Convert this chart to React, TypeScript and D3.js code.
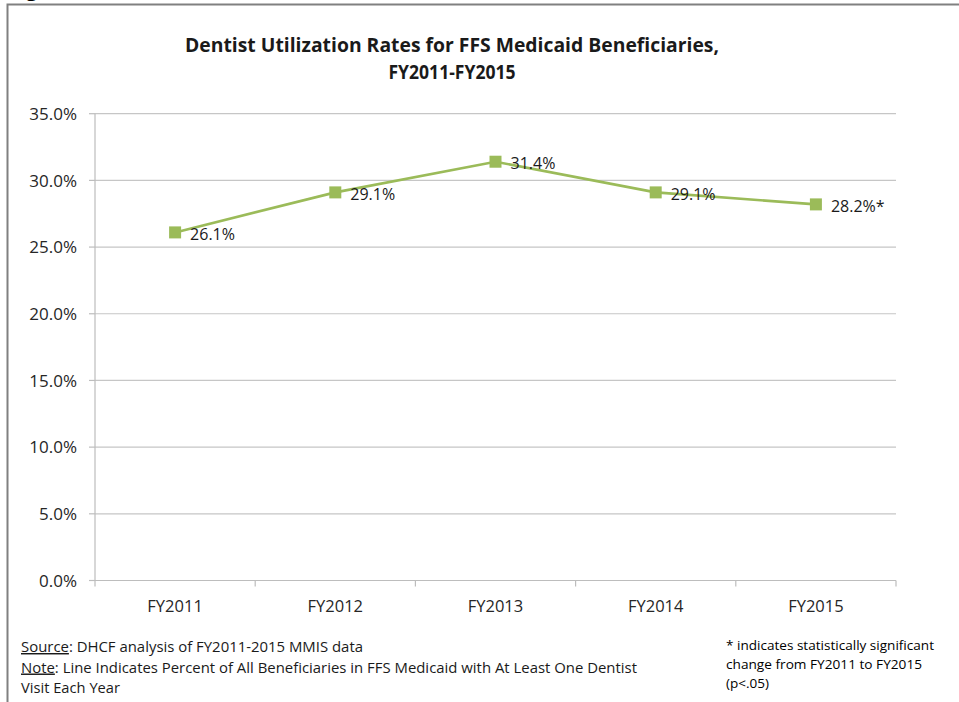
import React from "react";
import * as d3 from "d3";

const categories = ["FY2011", "FY2012", "FY2013", "FY2014", "FY2015"];
const values = [26.1, 29.1, 31.4, 29.1, 28.2];
const pointLabels = ["26.1%", "29.1%", "31.4%", "29.1%", "28.2%*"];
const yTicks = [0, 5, 10, 15, 20, 25, 30, 35];
const titleLines = ["Dentist Utilization Rates for FFS Medicaid Beneficiaries,", "FY2011-FY2015"];
const footLeft = [
  { u: "Source", rest: ": DHCF analysis of FY2011-2015 MMIS data", len: 342 },
  { u: "Note", rest: ": Line Indicates Percent of All Beneficiaries in FFS Medicaid with At Least One Dentist", len: 616 },
  { u: "", rest: "Visit Each Year", len: 99 },
];
const footRight = [
  { t: "* indicates statistically significant", len: 208 },
  { t: "change from FY2011 to FY2015", len: 196 },
  { t: "(p<.05)", len: 43 },
];

const W = 959;
const H = 702;
const FONT = "'Open Sans', 'Noto Sans', sans-serif";
const GREEN = "#9bbb59";

export default function App() {
  const plotL = 95, plotR = 896, plotT = 113.7, plotB = 580.5;
  const x = d3.scaleBand<string>().domain(categories).range([plotL, plotR]);
  const y = d3.scaleLinear().domain([0, 35]).range([plotB, plotT]);
  const line = d3
    .line<number>()
    .x((_, i) => (x(categories[i]) as number) + x.bandwidth() / 2)
    .y((d) => y(d));
  const fmt = (v: number) => v.toFixed(1) + "%";
  const boundaries = categories.map((c) => x(c) as number).concat([plotR]);

  return (
    <svg
      width={W}
      height={H}
      style={{ position: "absolute", left: 0, top: 0, background: "#fff" }}
      fontFamily={FONT}
    >
      <rect x={0} y={0} width={W} height={H} fill="#fff" />
      {/* cut-off figure caption at top */}
      <text x={9} y={-4} fontSize={20} fontWeight="bold" fill="#000">Figure</text>
      {/* frame */}
      <path d={`M7.5,${H} V4.5 H${W}`} fill="none" stroke="#808080" strokeWidth={2} />

      {/* title */}
      {titleLines.map((t, i) => (
        <text
          key={i}
          x={452}
          y={52 + i * 27}
          textAnchor="middle"
          fontSize={19}
          fontWeight="bold"
          fill="#1a1a1a"
          textLength={i === 0 ? 534 : 127}
          lengthAdjust="spacingAndGlyphs"
        >
          {t}
        </text>
      ))}

      {/* gridlines */}
      {yTicks.map((t) => (
        <g key={t}>
          {t > 0 && (
            <line x1={plotL} x2={plotR} y1={y(t)} y2={y(t)} stroke="#c6c6c6" strokeWidth={1.2} />
          )}
          <line x1={plotL - 6} x2={plotL} y1={y(t)} y2={y(t)} stroke="#bdbdbd" strokeWidth={1.2} />
          <text
            x={77}
            y={y(t)}
            dy="0.36em"
            textAnchor="end"
            fontSize={17}
            fill="#262626"
          >
            {fmt(t)}
          </text>
        </g>
      ))}

      {/* axes */}
      <line x1={plotL} x2={plotL} y1={plotT} y2={plotB} stroke="#bdbdbd" strokeWidth={1.2} />
      <line x1={plotL} x2={plotR} y1={plotB} y2={plotB} stroke="#bdbdbd" strokeWidth={1.2} />
      {boundaries.map((b, i) => (
        <line key={i} x1={b} x2={b} y1={plotB} y2={plotB + 6} stroke="#bdbdbd" strokeWidth={1.2} />
      ))}
      {categories.map((c) => (
        <text
          key={c}
          x={(x(c) as number) + x.bandwidth() / 2}
          y={612}
          textAnchor="middle"
          fontSize={16.5}
          fill="#262626"
        >
          {c}
        </text>
      ))}

      {/* series */}
      <path d={line(values) || ""} fill="none" stroke={GREEN} strokeWidth={2.6} />
      {values.map((v, i) => {
        const cx = (x(categories[i]) as number) + x.bandwidth() / 2;
        const cy = y(v);
        return (
          <g key={i}>
            <rect x={cx - 6} y={cy - 6} width={12} height={12} fill={GREEN} />
            <text x={cx + 15} y={cy + 2} dy="0.36em" fontSize={16} fill="#1a1a1a">
              {pointLabels[i]}
            </text>
          </g>
        );
      })}

      {/* footnotes */}
      {footLeft.map((f, i) => (
        <text
          key={i}
          x={21}
          y={652 + i * 20.5}
          fontSize={14.5}
          fill="#1a1a1a"
          textLength={f.len}
          lengthAdjust="spacingAndGlyphs"
        >
          {f.u && <tspan textDecoration="underline">{f.u}</tspan>}
          <tspan>{f.rest}</tspan>
        </text>
      ))}
      {footRight.map((f, i) => (
        <text
          key={i}
          x={726}
          y={650 + i * 19}
          fontSize={13.5}
          fill="#000"
          textLength={f.len}
          lengthAdjust="spacingAndGlyphs"
        >
          {f.t}
        </text>
      ))}
    </svg>
  );
}
